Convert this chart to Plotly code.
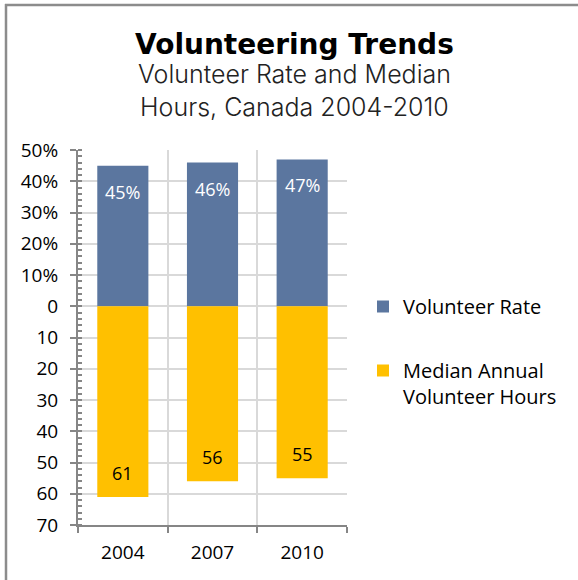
import plotly.graph_objects as go

# Survey years and the two measures shown on a shared diverging axis
years = ["2004", "2007", "2010"]
volunteer_rate = [45, 46, 47]          # percent of Canadians who volunteered
median_hours = [61, 56, 55]            # median annual volunteer hours

# Axis ticks: hours below zero, percentages above
tick_vals = [-70, -60, -50, -40, -30, -20, -10, 0, 10, 20, 30, 40, 50]
tick_text = ["70", "60", "50", "40", "30", "20", "10", "0",
             "10%", "20%", "30%", "40%", "50%"]

BLUE = "#5B769F"
GOLD = "#FFC000"
AXIS = "#868686"
GRID = "#D9D9D9"
FONT = "Open Sans"

W, H = 578, 580
L, R, T, B = 78, 231, 150, 55

fig = go.Figure()
fig.add_trace(go.Bar(
    x=years, y=volunteer_rate, name="Volunteer Rate",
    marker=dict(color=BLUE, line=dict(width=0)), width=0.57,
    legendgroup="rate", hoverinfo="skip",
))
fig.add_trace(go.Bar(
    x=years, y=[-v for v in median_hours],
    name="Median Annual<br>Volunteer Hours",
    marker=dict(color=GOLD, line=dict(width=0)), width=0.57,
    legendgroup="hours", hoverinfo="skip",
))

# Value labels inside the bars (category axis positions are indices)
annotations = []
for i, v in enumerate(volunteer_rate):
    annotations.append(dict(
        x=i, y=v, text=f"{v}%", showarrow=False, yshift=-26,
        font=dict(family=FONT, size=18, color="white"),
    ))
for i, v in enumerate(median_hours):
    annotations.append(dict(
        x=i, y=-v, text=f"{v}", showarrow=False, yshift=24,
        font=dict(family=FONT, size=18, color="black"),
    ))

pw = W - L - R
ph = H - T - B


def px_x(px):
    return (px - L) / pw


def px_y(py):
    return (H - B - py) / ph


cx = px_x(294)
annotations.append(dict(
    xref="paper", yref="paper", x=cx, y=px_y(44), text="<b>Volunteering Trends</b>",
    showarrow=False, xanchor="center", yanchor="middle",
    font=dict(family="DejaVu Sans", size=28, color="black"),
))
annotations.append(dict(
    xref="paper", yref="paper", x=cx, y=px_y(90),
    text="Volunteer Rate and Median<br>Hours, Canada 2004-2010",
    showarrow=False, xanchor="center", yanchor="middle",
    font=dict(family="Inter", size=25, color="#222222", weight=300),
))

# Frame along the top and left edges of the figure
shapes = [
    dict(type="line", xref="paper", yref="paper", x0=px_x(5), x1=px_x(578),
         y0=px_y(5), y1=px_y(5), line=dict(color="#8C8C8C", width=2.5)),
    dict(type="line", xref="paper", yref="paper", x0=px_x(6), x1=px_x(6),
         y0=px_y(4), y1=px_y(580), line=dict(color="#8C8C8C", width=2.5)),
]

fig.update_layout(
    width=W, height=H,
    margin=dict(l=L, r=R, t=T, b=B),
    paper_bgcolor="white", plot_bgcolor="white",
    barmode="relative",
    showlegend=True,
    legend=dict(
        x=px_x(363), xanchor="left", y=px_y(287), yanchor="top",
        traceorder="grouped", tracegroupgap=35, valign="top",
        font=dict(family=FONT, size=20, color="black"),
        bgcolor="rgba(0,0,0,0)",
    ),
    annotations=annotations,
    shapes=shapes,
    font=dict(family=FONT, color="black"),
)

fig.update_xaxes(
    type="category", tickson="boundaries",
    showline=True, linecolor=AXIS, linewidth=2,
    ticks="outside", ticklen=6, tickcolor=AXIS, tickwidth=2,
    showgrid=True, gridcolor=GRID, gridwidth=2,
    tickfont=dict(family=FONT, size=19, color="black"),
    ticklabelstandoff=9,
    range=[-0.5, 2.5], fixedrange=True,
)
fig.update_yaxes(
    range=[-70, 50], tickvals=tick_vals, ticktext=tick_text,
    showline=True, linecolor=AXIS, linewidth=2,
    ticks="outside", ticklen=6, tickcolor=AXIS, tickwidth=2,
    minor=dict(ticks="inside", ticklen=4, tickcolor=AXIS, tickwidth=1.5,
               dtick=2, showgrid=False),
    showgrid=True, gridcolor=GRID, gridwidth=2,
    zeroline=False,
    tickfont=dict(family=FONT, size=19, color="black"),
    ticklabelstandoff=8,
    fixedrange=True,
)

fig.write_html("out.html", config={"displayModeBar": False})
